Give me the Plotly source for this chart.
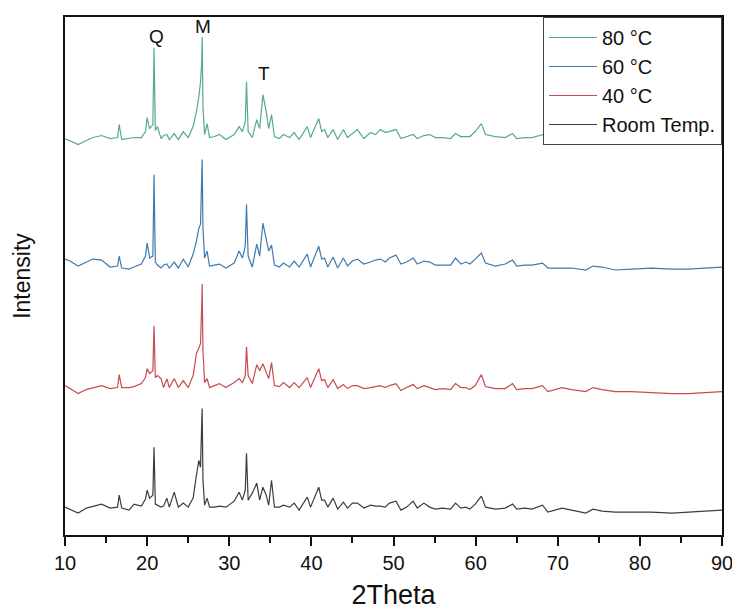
import plotly.graph_objects as go

two_theta = [10.0, 10.6, 11.6, 12.6, 13.4, 14.45, 15.5, 16.4, 16.6, 16.9, 17.8, 18.4, 19.3, 19.8, 20.0, 20.3,
             20.7, 20.84, 21.0, 21.25, 21.7, 22.0, 22.4, 22.7, 23.3, 23.8, 24.4, 25.0, 25.6, 26.0, 26.3, 26.5,
             26.65, 26.7, 26.8, 27.0, 27.3, 27.6, 28.2, 28.8, 29.6, 30.6, 31.2, 31.6, 31.95, 32.1, 32.3, 32.8,
             33.35, 33.7, 34.1, 34.5, 34.8, 35.15, 35.5, 36.1, 36.6, 37.35, 37.9, 38.5, 39.5, 39.9, 40.9, 41.25,
             41.6, 42.0, 42.65, 43.2, 43.9, 44.4, 45.0, 45.6, 46.4, 47.2, 47.8, 48.4, 49.0, 49.5, 50.3, 50.9,
             51.6, 52.4, 52.9, 53.7, 54.4, 55.1, 56.0, 56.95, 57.55, 58.2, 58.8, 59.3, 59.95, 60.7, 61.2, 62.4,
             63.6, 64.5, 65.0, 66.0, 66.85, 68.15, 68.8, 70.5, 71.7, 73.4, 74.3, 75.4, 77.0, 79.0, 81.4, 83.9,
             85.9, 87.9, 90.0]

int_80C = [398, 396, 392, 396, 399, 401, 398, 399, 412, 397, 398, 399, 399, 405, 419, 408,
           412, 489, 406, 410, 398, 401, 402, 397, 403, 397, 405, 399, 410, 425, 440, 455,
           475, 500, 430, 402, 413, 399, 400, 402, 397, 402, 410, 405, 415, 455, 405, 399,
           417, 408, 442, 425, 408, 422, 400, 398, 402, 399, 404, 397, 410, 399, 418, 405,
           407, 399, 407, 397, 407, 399, 403, 407, 398, 404, 402, 407, 404, 405, 407, 398,
           400, 402, 398, 401, 402, 399, 399, 398, 403, 400, 400, 400, 405, 413, 402, 400,
           399, 403, 398, 399, 399, 402, 398, 398, 399, 397, 401, 399, 397, 398, 397, 395,
           396, 397, 397]

int_60C = [277, 275, 270, 274, 277, 276, 269, 270, 280, 268, 267, 269, 272, 280, 293, 278,
           280, 362, 274, 271, 268, 271, 272, 268, 274, 268, 277, 269, 282, 295, 308, 312,
           350, 377, 308, 278, 285, 270, 271, 272, 268, 273, 285, 278, 290, 332, 280, 269,
           292, 280, 313, 298, 285, 291, 271, 269, 273, 269, 275, 269, 282, 269, 290, 277,
           278, 269, 279, 268, 278, 270, 275, 277, 272, 274, 276, 277, 274, 278, 281, 272,
           274, 278, 272, 275, 274, 271, 271, 271, 278, 272, 274, 272, 277, 283, 273, 270,
           272, 276, 270, 271, 271, 273, 268, 268, 268, 266, 270, 269, 266, 267, 268, 267,
           267, 268, 269]

int_40C = [150, 147, 142, 146, 148, 150, 147, 148, 161, 148, 148, 149, 152, 158, 167, 162,
           165, 210, 158, 160, 157, 148, 157, 148, 157, 148, 155, 148, 160, 182, 188, 192,
           230, 252, 185, 153, 157, 148, 150, 152, 148, 153, 157, 153, 160, 189, 160, 152,
           171, 165, 172, 163, 157, 173, 150, 149, 153, 148, 153, 148, 158, 148, 167, 155,
           156, 148, 156, 147, 151, 147, 150, 150, 147, 148, 149, 150, 148, 150, 152, 145,
           148, 151, 147, 150, 148, 146, 147, 146, 152, 148, 148, 146, 150, 161, 149, 147,
           147, 152, 146, 147, 147, 150, 144, 148, 146, 144, 148, 146, 144, 144, 143, 142,
           142, 143, 144]

int_room = [28, 26, 22, 27, 29, 31, 27, 28, 40, 27, 25, 31, 29, 36, 45, 37,
            40, 88, 31, 30, 28, 29, 37, 28, 43, 28, 32, 28, 37, 60, 75, 68,
            105, 127, 55, 30, 37, 28, 28, 29, 28, 34, 43, 35, 45, 82, 35, 42,
            52, 35, 48, 40, 30, 55, 28, 28, 30, 28, 32, 25, 38, 28, 48, 35,
            35, 28, 37, 26, 33, 27, 32, 32, 27, 30, 29, 29, 28, 32, 34, 25,
            28, 34, 27, 32, 28, 26, 27, 26, 32, 27, 28, 26, 31, 39, 28, 26,
            27, 31, 26, 27, 26, 30, 23, 27, 25, 22, 26, 24, 23, 23, 23, 22,
            23, 24, 25]

series_names = ["80 \u00b0C", "60 \u00b0C", "40 \u00b0C", "Room Temp."]
series_values = [int_80C, int_60C, int_40C, int_room]
series_colors = ["#55ad86", "#3e7ab0", "#c74b50", "#3c3c3c"]

peak_labels = ["Q", "M", "T"]
peak_x = [21.1, 26.75, 34.2]
peak_y = [500, 510, 463]

FONT = "Liberation Sans, Arial, sans-serif"

fig = go.Figure()
for name, vals, col in zip(series_names, series_values, series_colors):
    fig.add_trace(go.Scatter(x=two_theta, y=vals, mode="lines", name=name,
                             line=dict(color=col, width=1.2)))

for lab, px, py in zip(peak_labels, peak_x, peak_y):
    fig.add_annotation(x=px, y=py, text=lab, showarrow=False,
                       font=dict(family=FONT, size=19, color="#111"))

# page has an 8px body margin, so the figure is sized to fit inside the window
fig.update_layout(
    width=732, height=604,
    margin=dict(l=57, r=16, t=7, b=77),
    plot_bgcolor="white", paper_bgcolor="white",
    showlegend=True,
    legend=dict(x=1, y=1, xanchor="right", yanchor="top",
                bordercolor="#444", borderwidth=1, bgcolor="white",
                font=dict(family=FONT, size=20, color="#111"),
                itemwidth=48, tracegroupgap=0),
    xaxis=dict(range=[10, 90], tickvals=[10, 20, 30, 40, 50, 60, 70, 80, 90],
               ticks="outside", ticklen=9, tickwidth=1.5, tickcolor="#111",
               minor=dict(tickvals=[15, 25, 35, 45, 55, 65, 75, 85], ticks="outside",
                          ticklen=6, tickwidth=1.5, tickcolor="#111"),
               showline=True, linecolor="#111", linewidth=2, mirror=True,
               showgrid=False, zeroline=False,
               tickfont=dict(family=FONT, size=20, color="#111"),
               title=dict(text="2Theta", standoff=12,
                          font=dict(family=FONT, size=27, color="#111"))),
    yaxis=dict(range=[0, 520], showticklabels=False, ticks="",
               showline=True, linecolor="#111", linewidth=2, mirror=True,
               showgrid=False, zeroline=False,
               title=dict(text="Intensity", standoff=26,
                          font=dict(family=FONT, size=23, color="#111"))),
)

fig.write_html("out.html")
